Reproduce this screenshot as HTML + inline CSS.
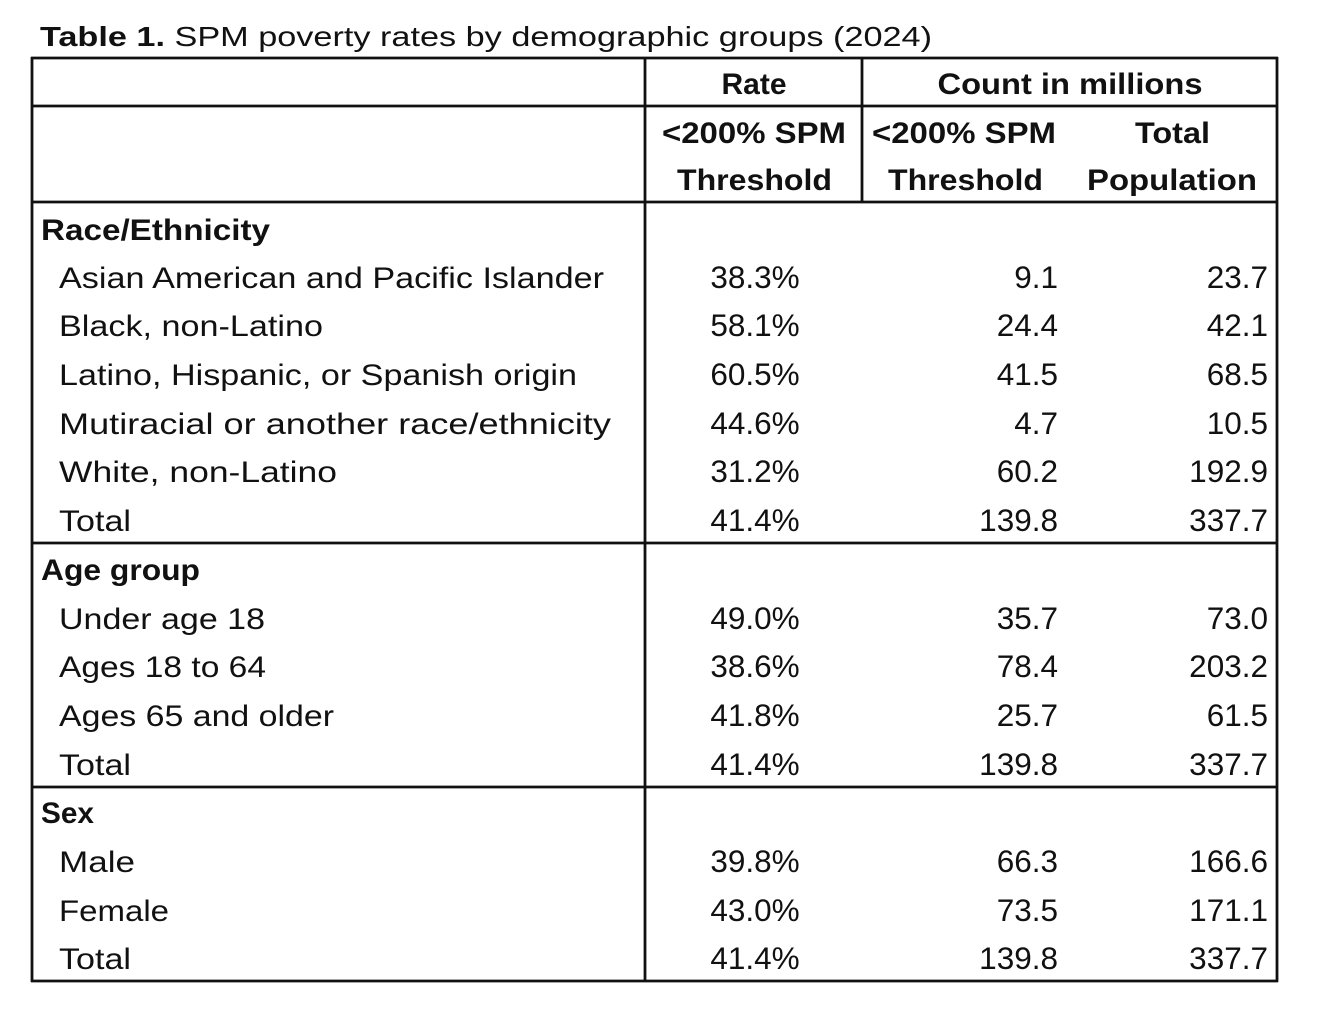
<!DOCTYPE html>
<html><head><meta charset="utf-8"><style>
html,body{margin:0;padding:0;background:#fff;}
svg{display:block;}
text{font-family:"Liberation Sans",sans-serif;font-size:30px;fill:#111;}
.b{font-weight:bold;}
.c{text-anchor:middle;}
.r{text-anchor:end;}
.n text{font-size:31.5px;}
</style></head><body>
<svg width="1332" height="1032" viewBox="0 0 1332 1032" xmlns="http://www.w3.org/2000/svg">
<rect width="1332" height="1032" fill="#fff"/>
<text x="40" y="46" style="font-size:28px" textLength="892" lengthAdjust="spacingAndGlyphs"><tspan class="b">Table 1.</tspan> SPM poverty rates by demographic groups (2024)</text>
<g stroke="#111" stroke-width="2.8" fill="none">
<line x1="31" y1="58" x2="1278" y2="58"/>
<line x1="31" y1="106" x2="1278" y2="106"/>
<line x1="31" y1="202" x2="1278" y2="202"/>
<line x1="31" y1="543" x2="1278" y2="543"/>
<line x1="31" y1="787" x2="1278" y2="787"/>
<line x1="31" y1="981" x2="1278" y2="981"/>
<line x1="32" y1="57" x2="32" y2="982"/>
<line x1="645" y1="57" x2="645" y2="982"/>
<line x1="1277" y1="57" x2="1277" y2="982"/>
<line x1="862" y1="57" x2="862" y2="203"/>
</g>
<g class="b">
<text class="b c" x="754" y="94">Rate</text>
<text class="b c" x="1070" y="94" textLength="265" lengthAdjust="spacingAndGlyphs">Count in millions</text>
<text class="b" x="662" y="143" textLength="184" lengthAdjust="spacingAndGlyphs">&lt;200% SPM</text>
<text class="b" x="677" y="190" textLength="155" lengthAdjust="spacingAndGlyphs">Threshold</text>
<text class="b" x="872" y="143" textLength="184" lengthAdjust="spacingAndGlyphs">&lt;200% SPM</text>
<text class="b" x="888" y="190" textLength="155" lengthAdjust="spacingAndGlyphs">Threshold</text>
<text class="b" x="1135" y="143" textLength="75" lengthAdjust="spacingAndGlyphs">Total</text>
<text class="b" x="1087" y="190" textLength="170" lengthAdjust="spacingAndGlyphs">Population</text>
<text class="b" x="41" y="240" textLength="229" lengthAdjust="spacingAndGlyphs">Race/Ethnicity</text>
<text class="b" x="41" y="580" textLength="159" lengthAdjust="spacingAndGlyphs">Age group</text>
<text class="b" x="41" y="823" textLength="53" lengthAdjust="spacingAndGlyphs">Sex</text>
</g>
<g>
<text x="59" y="288" textLength="545" lengthAdjust="spacingAndGlyphs">Asian American and Pacific Islander</text>
<text x="59" y="336" textLength="264" lengthAdjust="spacingAndGlyphs">Black, non-Latino</text>
<text x="59" y="385" textLength="518" lengthAdjust="spacingAndGlyphs">Latino, Hispanic, or Spanish origin</text>
<text x="59" y="434" textLength="552" lengthAdjust="spacingAndGlyphs">Mutiracial or another race/ethnicity</text>
<text x="59" y="482" textLength="278" lengthAdjust="spacingAndGlyphs">White, non-Latino</text>
<text x="59" y="531" textLength="72" lengthAdjust="spacingAndGlyphs">Total</text>
<text x="59" y="629" textLength="206" lengthAdjust="spacingAndGlyphs">Under age 18</text>
<text x="59" y="677" textLength="207" lengthAdjust="spacingAndGlyphs">Ages 18 to 64</text>
<text x="59" y="726" textLength="275" lengthAdjust="spacingAndGlyphs">Ages 65 and older</text>
<text x="59" y="775" textLength="72" lengthAdjust="spacingAndGlyphs">Total</text>
<text x="59" y="872" textLength="76" lengthAdjust="spacingAndGlyphs">Male</text>
<text x="59" y="921" textLength="110" lengthAdjust="spacingAndGlyphs">Female</text>
<text x="59" y="969" textLength="72" lengthAdjust="spacingAndGlyphs">Total</text>
</g>
<g class="n">
<text class="c" x="755" y="288">38.3%</text><text class="r" x="1058" y="288">9.1</text><text class="r" x="1268" y="288">23.7</text>
<text class="c" x="755" y="336">58.1%</text><text class="r" x="1058" y="336">24.4</text><text class="r" x="1268" y="336">42.1</text>
<text class="c" x="755" y="385">60.5%</text><text class="r" x="1058" y="385">41.5</text><text class="r" x="1268" y="385">68.5</text>
<text class="c" x="755" y="434">44.6%</text><text class="r" x="1058" y="434">4.7</text><text class="r" x="1268" y="434">10.5</text>
<text class="c" x="755" y="482">31.2%</text><text class="r" x="1058" y="482">60.2</text><text class="r" x="1268" y="482">192.9</text>
<text class="c" x="755" y="531">41.4%</text><text class="r" x="1058" y="531">139.8</text><text class="r" x="1268" y="531">337.7</text>
<text class="c" x="755" y="629">49.0%</text><text class="r" x="1058" y="629">35.7</text><text class="r" x="1268" y="629">73.0</text>
<text class="c" x="755" y="677">38.6%</text><text class="r" x="1058" y="677">78.4</text><text class="r" x="1268" y="677">203.2</text>
<text class="c" x="755" y="726">41.8%</text><text class="r" x="1058" y="726">25.7</text><text class="r" x="1268" y="726">61.5</text>
<text class="c" x="755" y="775">41.4%</text><text class="r" x="1058" y="775">139.8</text><text class="r" x="1268" y="775">337.7</text>
<text class="c" x="755" y="872">39.8%</text><text class="r" x="1058" y="872">66.3</text><text class="r" x="1268" y="872">166.6</text>
<text class="c" x="755" y="921">43.0%</text><text class="r" x="1058" y="921">73.5</text><text class="r" x="1268" y="921">171.1</text>
<text class="c" x="755" y="969">41.4%</text><text class="r" x="1058" y="969">139.8</text><text class="r" x="1268" y="969">337.7</text>
</g>
</svg>
</body></html>
